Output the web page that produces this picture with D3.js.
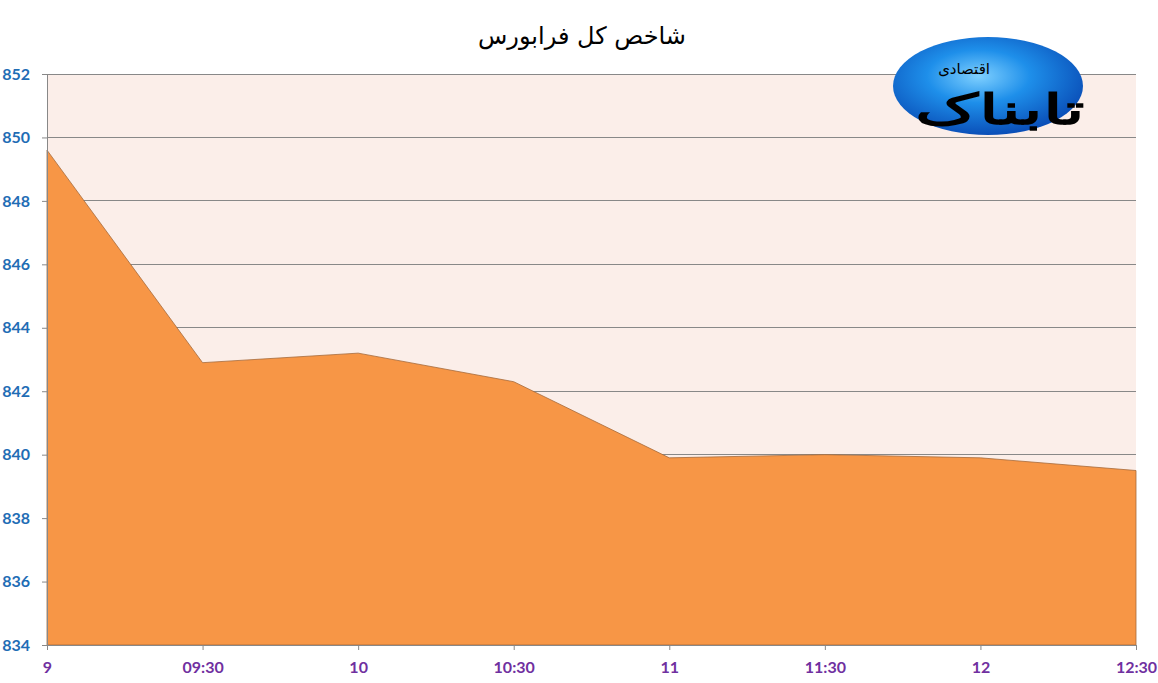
<!DOCTYPE html>
<html><head><meta charset="utf-8">
<script src="https://cdn.jsdelivr.net/npm/d3@7"></script>
<style>body{margin:0;background:#fff;}svg{display:block;}</style>
</head><body>
<svg id="c" width="1158" height="683"></svg>
<script>
const categories = ["9","09:30","10","10:30","11","11:30","12","12:30"];
const values = [849.6, 842.9, 843.2, 842.3, 839.9, 840.0, 839.9, 839.5];
const yTicks = [834,836,838,840,842,844,846,848,850,852];
const title = "شاخص کل فرابورس";

const svg = d3.select("#c");
const m = {l:47, r:1136, t:74, b:645};
const x = d3.scalePoint().domain(categories).range([m.l, m.r]);
const y = d3.scaleLinear().domain([834,852]).range([m.b, m.t]);

svg.append("rect").attr("x",m.l).attr("y",m.t).attr("width",m.r-m.l).attr("height",m.b-m.t).attr("fill","#FBEEE9");

svg.append("g").selectAll("line").data(yTicks.filter(d=>d>834)).join("line")
  .attr("x1",m.l).attr("x2",m.r).attr("y1",d=>y(d)).attr("y2",d=>y(d))
  .attr("stroke","#888").attr("stroke-width",1).attr("shape-rendering","crispEdges");

const data = categories.map((c,i)=>({c, v:values[i]}));
svg.append("path").datum(data)
  .attr("d", d3.area().x(d=>x(d.c)).y0(y(834)).y1(d=>y(d.v)))
  .attr("fill","#F79646").attr("stroke","#A66A3A").attr("stroke-width",0.8);

// axes
const ya = svg.append("g").attr("transform",`translate(${m.l},0)`)
  .call(d3.axisLeft(y).tickValues(yTicks).tickSize(5).tickPadding(12));
ya.select(".domain").attr("stroke","#888");
ya.selectAll(".tick line").attr("stroke","#888");
ya.selectAll("text").attr("fill","#1F6DB5").attr("font-family","Lato, 'Open Sans', sans-serif")
  .attr("font-weight","bold").attr("font-size","16px");

const xa = svg.append("g").attr("transform",`translate(0,${m.b})`)
  .call(d3.axisBottom(x).tickSize(5).tickPadding(12));
xa.select(".domain").attr("stroke","#888");
xa.selectAll(".tick line").attr("stroke","#888");
xa.selectAll("text").attr("fill","#7030A0").attr("font-family","Lato, 'Open Sans', sans-serif")
  .attr("font-weight","bold").attr("font-size","16px");

svg.append("text").attr("x",582).attr("y",44).attr("text-anchor","middle")
  .attr("font-family","'DejaVu Sans', sans-serif").attr("font-size","24px").attr("fill","#000")
  .text(title);

// logo
const defs = svg.append("defs");
const g = defs.append("radialGradient").attr("id","lg").attr("cx","45%").attr("cy","40%").attr("r","60%");
g.append("stop").attr("offset","0%").attr("stop-color","#7FD0FF");
g.append("stop").attr("offset","45%").attr("stop-color","#1E8FEA");
g.append("stop").attr("offset","100%").attr("stop-color","#0A4FB8");
svg.append("ellipse").attr("cx",988).attr("cy",86).attr("rx",95).attr("ry",49).attr("fill","url(#lg)");
svg.append("text").attr("x",1000).attr("y",124).attr("text-anchor","middle")
  .attr("font-family","'DejaVu Serif', serif").attr("font-weight","bold").attr("font-size","42px")
  .attr("textLength",170).attr("lengthAdjust","spacingAndGlyphs")
  .attr("fill","#000").text("تابناک");
svg.append("text").attr("x",990).attr("y",74).attr("text-anchor","end")
  .attr("font-family","'DejaVu Sans', sans-serif").attr("font-size","15px").attr("fill","#000").text("اقتصادی");
</script>
</body></html>
